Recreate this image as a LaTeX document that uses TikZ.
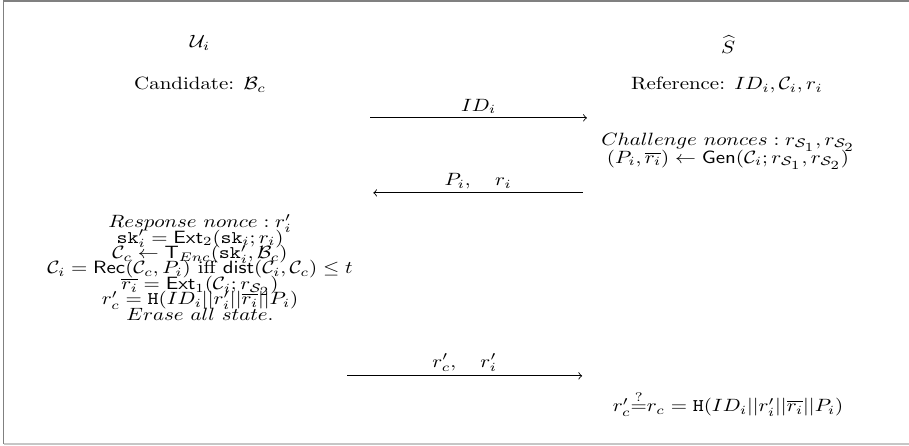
\documentclass[tikz,border=0pt]{standalone}
\usepackage{amsmath,amssymb}
\newcommand\tightlines[1]{\fontsize{10}{#1}\selectfont\lineskiplimit-20pt\relax\lineskip0pt\relax}
\newcommand\subnum[1]{{\scriptstyle #1}}
\begin{document}
\begin{tikzpicture}[every node/.style={font=\normalsize,inner sep=1pt,yscale=0.85,transform shape},
  msg/.style={->,thin},
  steps/.style={align=center,font={\tightlines{8.7}}}]
\useasboundingbox (0,0) rectangle (15.27,7.49);
% frame
\draw[gray,line width=0.7pt] (15.27,7.47) -- (0.06,7.47) -- (0.06,0.03);
\draw[gray!45,line width=0.7pt] (0.06,0.03) -- (15.27,0.03);
% User and server
\node (user) at (3.36,6.77) {$\mathcal{U}_i$};
\node (server) at (12.23,6.74) {$\widehat{S}$};
\node (cand) at (3.36,6.065) {Candidate: $\mathcal{B}_c$};
\node (ref) at (12.21,6.065) {Reference: $ID_i,\mathcal{C}_i,r_i$};
% Server side
\node[steps,font={\tightlines{10.1}}] (chal) at (12.23,4.95)
  {$Challenge\ nonces: r_{\mathcal{S}_\subnum{1}},r_{\mathcal{S}_\subnum{2}}$\\
  $(P_i,\overline{r_i})\leftarrow\mathsf{Gen}(\mathcal{C}_i;r_{\mathcal{S}_\subnum{1}},r_{\mathcal{S}_\subnum{2}})$};
% User side
\node[steps] (resp) at (3.36,3.0) {$Response\ nonce: r'_i$\\
  $\mathtt{sk}'_i=\mathsf{Ext}_2(\mathtt{sk}_i;r_i)$\\
  $\mathcal{C}_c\leftarrow\mathsf{T}_{Enc}(\mathtt{sk}'_i,\mathcal{B}_c)$\\
  $\mathcal{C}_i=\mathsf{Rec}(\mathcal{C}_c,P_i)\text{ iff }\mathsf{dist}(\mathcal{C}_i,\mathcal{C}_c)\leq t$\\
  $\overline{r_i}=\mathsf{Ext}_1(\mathcal{C}_i;r_{\mathcal{S}_\subnum{2}})$\\
  $r'_c=\mathtt{H}(ID_i||r'_i||\overline{r_i}||P_i)$\\
  $Erase\ all\ state.$};
\node (check) at (12.23,0.706) {$r'_c{\overset{?}{=}}r_c=\mathtt{H}(ID_i||r'_i||\overline{r_i}||P_i)$};
% Messages
\coordinate (m1a) at (6.22,5.51);
\coordinate (m1b) at (9.86,5.51);
\coordinate (m2a) at (9.79,4.25);
\coordinate (m2b) at (6.27,4.25);
\coordinate (m3a) at (5.83,1.176);
\coordinate (m3b) at (9.78,1.176);
\draw[msg] (m1a) -- (m1b) node[midway,above=1pt] {$ID_i$};
\draw[msg] (m2a) -- (m2b) node[midway,above=1pt] {$P_i,\quad r_i$};
\draw[msg] (m3a) -- (m3b) node[midway,above=1pt] {$r'_c,\quad r'_i$};
\end{tikzpicture}
\end{document}
